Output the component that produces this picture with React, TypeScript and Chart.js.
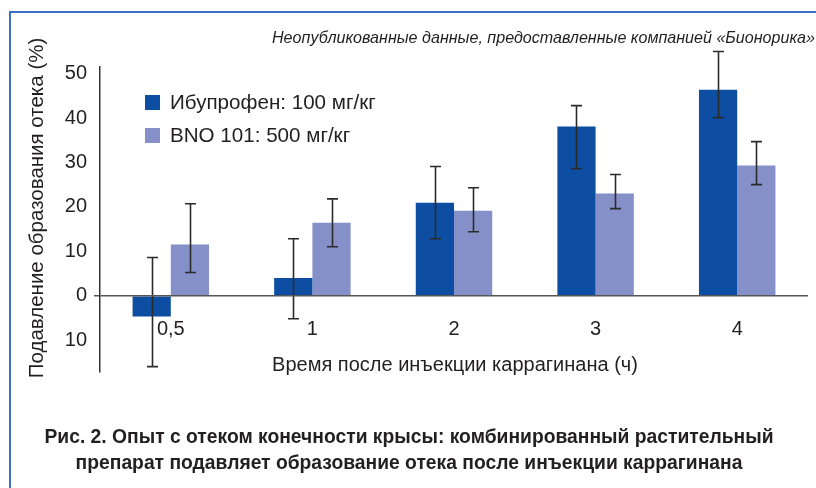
import React, { useEffect, useRef } from "react";
import { Chart, registerables } from "chart.js";

Chart.register(...registerables);

const categories = ["0,5", "1", "2", "3", "4"];
const seriesNames = ["Ибупрофен: 100 мг/кг", "BNO 101: 500 мг/кг"];
const ibuprofen = [-4.7, 4.0, 20.9, 38.1, 46.4];
const ibuprofenErrUp = [13.3, 8.8, 8.2, 4.7, 8.6];
const ibuprofenErrDown = [11.3, 9.2, 8.1, 9.5, 6.3];
const bno = [11.5, 16.4, 19.1, 23.0, 29.3];
const bnoErrUp = [9.2, 5.4, 5.2, 4.3, 5.4];
const bnoErrDown = [6.3, 5.4, 4.7, 3.4, 4.3];
const yTicks = [-10, 0, 10, 20, 30, 40, 50];

const yTitle = "Подавление образования отека (%)";
const xTitle = "Время после инъекции каррагинана (ч)";
const subtitle = "Неопубликованные данные, предоставленные компанией «Бионорика»";
const captionLines = [
  "Рис. 2. Опыт с отеком конечности крысы: комбинированный растительный",
  "препарат подавляет образование отека после инъекции каррагинана",
];

const FONT = "'Liberation Sans', Arial, Helvetica, sans-serif";
const TEXT = "#231f20";
const DARK = "#0d4ea3";
const LIGHT = "#8490c7";
const FRAME = "#3c70c2";

const errUps = [ibuprofenErrUp, bnoErrUp];
const errDowns = [ibuprofenErrDown, bnoErrDown];

const framePlugin = {
  id: "frame",
  beforeDraw(chart: any) {
    const ctx = chart.ctx;
    ctx.save();
    ctx.fillStyle = "#ffffff";
    ctx.fillRect(0, 0, chart.width, chart.height);
    ctx.fillStyle = FRAME;
    ctx.fillRect(9, 11, chart.width - 9, 2);
    ctx.fillRect(9, 11, 2, chart.height - 11);
    ctx.restore();
  },
};

const errorBarsPlugin = {
  id: "errorBars",
  afterDatasetsDraw(chart: any) {
    const ctx = chart.ctx;
    const ys = chart.scales.y;
    ctx.save();
    ctx.strokeStyle = "#2b2b2b";
    ctx.lineWidth = 1.6;
    chart.data.datasets.forEach((ds: any, i: number) => {
      const meta = chart.getDatasetMeta(i);
      meta.data.forEach((bar: any, j: number) => {
        const v = ds.data[j];
        const top = ys.getPixelForValue(v + errUps[i][j]);
        const bot = ys.getPixelForValue(v - errDowns[i][j]);
        const x = Math.round(bar.x) + 0.5;
        ctx.beginPath();
        ctx.moveTo(x, top);
        ctx.lineTo(x, bot);
        ctx.moveTo(x - 5.5, top);
        ctx.lineTo(x + 5.5, top);
        ctx.moveTo(x - 5.5, bot);
        ctx.lineTo(x + 5.5, bot);
        ctx.stroke();
      });
    });
    ctx.restore();
  },
};

const decorPlugin = {
  id: "decor",
  afterDraw(chart: any) {
    const ctx = chart.ctx;
    ctx.save();
    ctx.fillStyle = TEXT;
    // legend
    ctx.font = `20.6px ${FONT}`;
    const legendY = [95, 128];
    chart.data.datasets.forEach((ds: any, i: number) => {
      ctx.fillStyle = ds.backgroundColor;
      ctx.fillRect(145, legendY[i], 15, 15);
      ctx.fillStyle = TEXT;
      ctx.textAlign = "left";
      ctx.textBaseline = "middle";
      ctx.fillText(ds.label, 170, legendY[i] + 8);
    });
    // x title
    ctx.font = `20px ${FONT}`;
    ctx.textAlign = "center";
    ctx.textBaseline = "alphabetic";
    ctx.fillText(xTitle, 455, 371);
    // y title
    ctx.font = `20.5px ${FONT}`;
    ctx.translate(43, 208);
    ctx.rotate(-Math.PI / 2);
    ctx.textAlign = "center";
    ctx.textBaseline = "alphabetic";
    ctx.fillText(yTitle, 0, 0);
    ctx.restore();
  },
};

export default function App() {
  const ref = useRef<HTMLCanvasElement>(null);

  useEffect(() => {
    document.body.style.margin = "0";
    document.body.style.overflow = "hidden";
    const canvas = ref.current;
    if (!canvas) return;
    const chart = new Chart(canvas, {
      type: "bar",
      data: {
        labels: categories,
        datasets: [
          {
            label: seriesNames[0],
            data: ibuprofen,
            backgroundColor: DARK,
            borderWidth: 0,
            barPercentage: 1,
            categoryPercentage: 0.54,
          },
          {
            label: seriesNames[1],
            data: bno,
            backgroundColor: LIGHT,
            borderWidth: 0,
            barPercentage: 1,
            categoryPercentage: 0.54,
          },
        ],
      },
      options: {
        responsive: false,
        animation: false,
        devicePixelRatio: 1,
        layout: { padding: { left: 0, top: 67, right: 8, bottom: 116 } },
        plugins: {
          legend: { display: false },
          tooltip: { enabled: false },
          title: { display: false },
        },
        scales: {
          x: {
            type: "category",
            position: { y: 0 } as any,
            offset: true,
            grid: { display: false, drawTicks: false },
            border: { display: false },
            ticks: {
              font: { family: FONT, size: 20 },
              color: TEXT,
              padding: 22,
              maxRotation: 0,
              autoSkip: false,
            },
          },
          y: {
            min: -17.2,
            max: 51.5,
            grid: {
              display: true,
              drawOnChartArea: true,
              drawTicks: true,
              tickLength: 6,
              lineWidth: 1.5,
              z: 1,
              color: (c: any) => (c.tick && c.tick.value === 0 ? "#555555" : "rgba(0,0,0,0)"),
            },
            border: { display: true, color: "#333333", width: 1.5, z: 1 } as any,
            ticks: {
              font: { family: FONT, size: 20 },
              color: TEXT,
              padding: 7,
              callback: (v: any) => String(Math.abs(Number(v))),
            },
            afterBuildTicks: (s: any) => {
              s.ticks = yTicks.map((v) => ({ value: v }));
            },
            afterFit: (s: any) => {
              s.width = 100;
            },
          },
        },
      },
      plugins: [framePlugin, errorBarsPlugin, decorPlugin],
    });
    return () => chart.destroy();
  }, []);

  return (
    <div
      style={{
        position: "relative",
        width: 816,
        height: 488,
        overflow: "hidden",
        background: "#ffffff",
        fontFamily: FONT,
        color: TEXT,
      }}
    >
      <canvas
        ref={ref}
        width={816}
        height={488}
        style={{ position: "absolute", left: 0, top: 0, width: 816, height: 488 }}
      />
      <div
        style={{
          position: "absolute",
          left: 272,
          top: 28.5,
          fontSize: 16.1,
          lineHeight: "16px",
          fontStyle: "italic",
          whiteSpace: "nowrap",
        }}
      >
        {subtitle}
      </div>
      <div
        style={{
          position: "absolute",
          left: 0,
          width: 818,
          top: 424,
          fontSize: 19.3,
          lineHeight: "26px",
          fontWeight: "bold",
          textAlign: "center",
          whiteSpace: "nowrap",
        }}
      >
        {captionLines[0]}
        <br />
        {captionLines[1]}
      </div>
    </div>
  );
}
